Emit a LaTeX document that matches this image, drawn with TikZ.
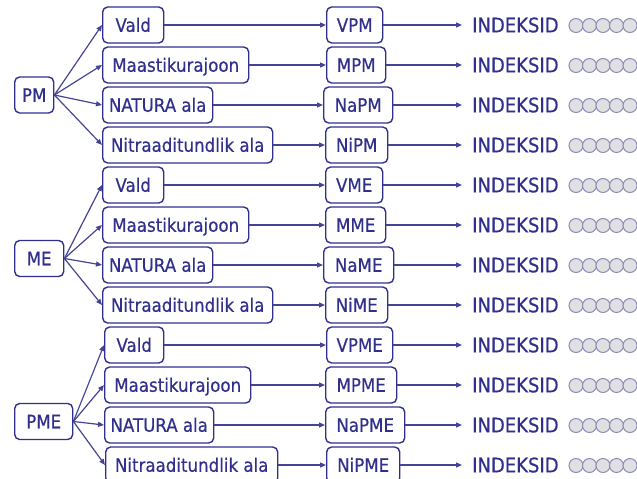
\documentclass[tikz,border=0pt]{standalone}
\usepackage{fontspec}
\setmainfont{DejaVu Sans}[FakeStretch=0.9,FakeBold=0.5]
\usetikzlibrary{arrows.meta}
\definecolor{navy}{RGB}{48,48,140}
\definecolor{lineblue}{RGB}{68,68,148}
\definecolor{dotfill}{RGB}{224,224,227}
\definecolor{dotline}{RGB}{140,140,185}
\tikzset{
  box/.style={draw=navy, line width=1.4pt, rounded corners=5pt, text=navy,
    font=\fontsize{18.5}{20}\selectfont, minimum height=36pt, inner sep=0pt,
    text height=13.5pt, text depth=0pt, anchor=west},
  conn/.style={draw=lineblue, line width=1.2pt, -{Triangle[length=6pt,width=5pt]}},
  idx/.style={text=navy, font=\fontsize{20}{22}\selectfont, anchor=west, inner sep=0pt,
    text height=14.6pt, text depth=0pt},
  dot/.style={circle, draw=dotline, fill=dotfill, line width=1pt, minimum size=14pt, inner sep=0pt},
}
\begin{document}
\begin{tikzpicture}[x=1pt,y=-1pt]
\useasboundingbox (0,0) rectangle (637,479);
% root nodes
\node[box, minimum width=39pt] (pm)  at (14,95)    {PM};
\node[box, minimum width=49pt] (me)  at (14,258.5) {ME};
\node[box, minimum width=58pt] (pme) at (14,421.5) {PME};
% rows
\foreach \i/\lx/\lw/\lt/\rx/\rw/\rt in {
  0/102/61/Vald/326/56/VPM,
  1/102/146/Maastikurajoon/326/59/MPM,
  2/102/110/NATURA ala/323/69/NaPM,
  3/102/170/Nitraaditundlik ala/325/62/NiPM,
  4/102/61/Vald/325/57/VME,
  5/102/146/Maastikurajoon/325/60/MME,
  6/102/110/NATURA ala/323/70/NaME,
  7/102/170/Nitraaditundlik ala/325/62/NiME,
  8/104/59/Vald/326/66/VPME,
  9/104/146/Maastikurajoon/325/71/MPME,
  10/104/109/NATURA ala/325/79/NaPME,
  11/105/172/Nitraaditundlik ala/326/73/NiPME}{
  \pgfmathsetmacro\y{25+40*\i}
  \node[box, minimum width=\lw pt] (l\i) at (\lx,\y) {\lt};
  \node[box, minimum width=\rw pt] (r\i) at (\rx,\y) {\rt};
  \node[idx] (n\i) at (472,\y) {INDEKSID};
  \draw[conn] (l\i.east) -- (r\i.west);
  \draw[conn, shorten >=10pt] (r\i.east) -- (n\i.west);
  \begin{scope}
    \clip (0,0) rectangle (637,479);
    \foreach \k in {0,...,4}{
      \node[dot] (c\i-\k) at (576+13.5*\k,\y+0.5) {};
    }
  \end{scope}
}
% root connectors
\foreach \i in {0,1,2,3}{\draw[conn] (pm.east) -- (l\i.west);}
\foreach \i in {4,5,6,7}{\draw[conn] (me.east) -- (l\i.west);}
\foreach \i in {8,9,10,11}{\draw[conn] (pme.east) -- (l\i.west);}
\end{tikzpicture}
\end{document}
